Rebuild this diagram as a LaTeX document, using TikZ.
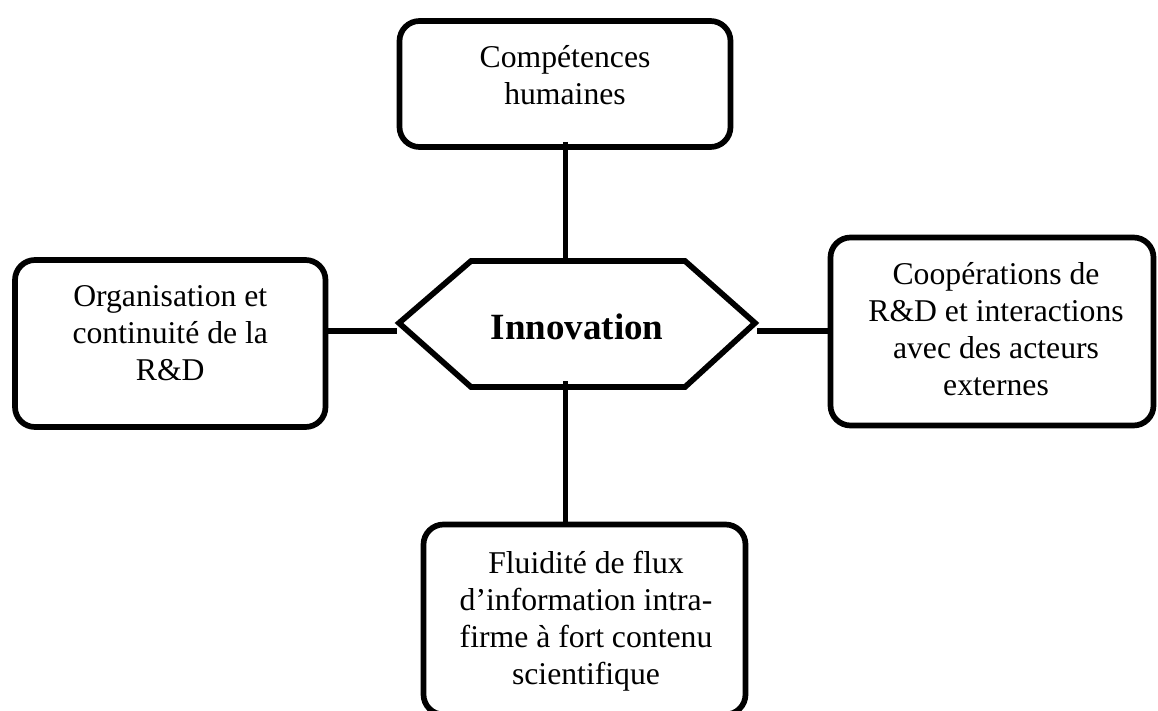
\documentclass[tikz,border=0pt]{standalone}
\usepackage{fontspec}
\setmainfont{Liberation Serif}
\begin{document}
\begin{tikzpicture}[x=1pt,y=-1pt,
  box/.style={draw, line width=5.7pt, rounded corners=20pt, inner sep=0pt},
  txt/.style={align=center, font=\fontsize{31.7}{36.9}\selectfont, inner sep=0pt},
  link/.style={line width=5.7pt}]
\useasboundingbox (0,0) rectangle (1158,711);
% boxes
\node[box, minimum width=331pt, minimum height=126pt,
  label={[txt,yshift=9pt]center:{Compétences\\humaines}}] (top) at (565,84) {};
\node[box, minimum width=310.5pt, minimum height=167pt,
  label={[txt,yshift=10pt]center:{Organisation et\\continuité de la\\R\&D}}] (left) at (170.25,343.5) {};
\node[box, minimum width=323pt, minimum height=188pt,
  label={[txt,yshift=2.5pt,xshift=4pt]center:{Coopérations de\\R\&D et interactions\\avec des acteurs\\externes}}] (right) at (992,331.5) {};
\node[box, minimum width=322pt, minimum height=190pt,
  label={[txt,yshift=-1.5pt,xshift=1.5pt]center:{Fluidité de flux\\d’information intra-\\firme à fort contenu\\scientifique}}] (bot) at (584.5,619.5) {};
% central hexagon
\node[inner sep=0pt, font=\fontsize{37}{40}\selectfont\bfseries] (inno) at (577,327) {Innovation};
\coordinate (hl) at (399,323);
\coordinate (htl) at (471,261);
\coordinate (htr) at (685,261);
\coordinate (hr) at (755,323);
\coordinate (hbr) at (685,387);
\coordinate (hbl) at (471,387);
\draw[link] (hl) -- (htl) -- (htr) -- (hr) -- (hbr) -- (hbl) -- cycle;
% connectors
\coordinate (hbc) at (565.5,381);
\coordinate (lj) at (397,331);
\coordinate (rj) at (757,331);
\draw[link] (hbc |- top.south) ++(0,-8) -- (hbc |- htl);
\draw[link] (hbc) -- (hbc |- bot.north);
\draw[link] (lj -| left.east) -- (lj);
\draw[link] (rj) -- (rj -| right.west);
\end{tikzpicture}
\end{document}
